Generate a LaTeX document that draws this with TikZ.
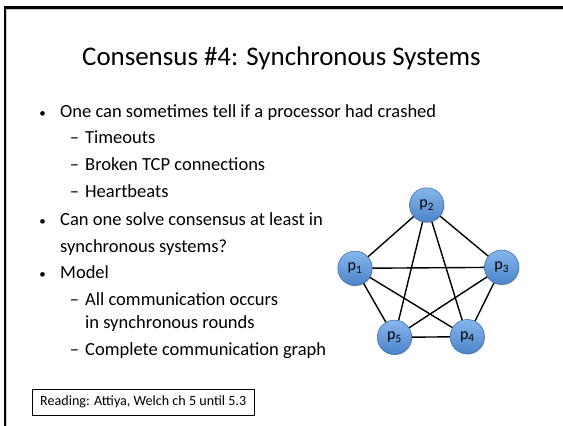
\documentclass[tikz,border=0pt]{standalone}
\usepackage{fontspec}
\setmainfont{Carlito}
\usetikzlibrary{shadows}
\definecolor{proctop}{HTML}{86B6EC}
\definecolor{procbot}{HTML}{4C84C8}
\definecolor{procrim}{HTML}{3E70AE}
\tikzset{
  slidetitle/.style={font=\fontsize{26.9}{32}\selectfont, inner sep=0pt, anchor=base},
  bodytext/.style={font=\fontsize{18.5}{22}\selectfont, inner sep=0pt, anchor=base west},
  bulletmark/.style={font=\fontsize{13}{16}\selectfont, inner sep=0pt, anchor=base},
  dashmark/.style={font=\fontsize{18.5}{22}\selectfont, inner sep=0pt, anchor=base},
  proc/.style={circle, minimum size=34.4pt, inner sep=0pt, draw=procrim, line width=0.6pt,
    top color=proctop, bottom color=procbot,
    drop shadow={opacity=0.3, shadow xshift=0.6pt, shadow yshift=-0.9pt},
    font=\fontsize{16}{18}\selectfont},
  edge/.style={draw=black, line width=1.4pt},
  notebox/.style={draw=black, line width=0.8pt, minimum width=221.7pt, minimum height=26pt,
    inner sep=0pt, font=\fontsize{14.1}{16}\selectfont}
}
\begin{document}
\begin{tikzpicture}[x=1pt, y=-1pt]
\useasboundingbox (0,0) rectangle (563,426);
\fill[white] (0,0) rectangle (563,426);
% slide frame: top and left edges only
\draw[gray!40, line width=0.8pt] (6.8,426) -- (6.8,9.2) -- (563,9.2);
\draw[black, line width=2.3pt] (5,426) -- (5,7.6) -- (563,7.6);

\node[slidetitle] (title) at (281.5,65) {Consensus \#4: Synchronous Systems};

% bullet list
\node[bulletmark] (m1) at (42.7,117) {•};
\node[bodytext] (b1) at (60,117) {One can sometimes tell if a processor had crashed};
\node[dashmark] (d1) at (74.5,143.6) {–};
\node[bodytext] (s1) at (85,143.6) {Timeouts};
\node[dashmark] (d2) at (74.5,170.3) {–};
\node[bodytext] (s2) at (85,170.3) {Broken TCP connections};
\node[dashmark] (d3) at (74.5,197) {–};
\node[bodytext] (s3) at (85,197) {Heartbeats};
\node[bulletmark] (m2) at (42.7,225.3) {•};
\node[bodytext] (b2) at (60,225.3) {Can one solve consensus at least in};
\node[bodytext] (b2b) at (60,252) {synchronous systems?};
\node[bulletmark] (m3) at (42.7,278.6) {•};
\node[bodytext] (b3) at (60,278.6) {Model};
\node[dashmark] (d4) at (74.5,305.3) {–};
\node[bodytext] (s4) at (85,305.3) {All communication occurs};
\node[bodytext] (s4b) at (85,328.6) {in synchronous rounds};
\node[dashmark] (d5) at (74.5,355.3) {–};
\node[bodytext] (s5) at (85,355.3) {Complete communication graph};

% processors
\node[proc] (p1) at (355,268.3) {p\textsubscript{1}};
\node[proc] (p2) at (426.7,205) {p\textsubscript{2}};
\node[proc] (p3) at (501.7,267.3) {p\textsubscript{3}};
\node[proc] (p4) at (467.3,336.7) {p\textsubscript{4}};
\node[proc] (p5) at (394.5,337.3) {p\textsubscript{5}};

% complete communication graph
\draw[edge] (p1) -- (p2);
\draw[edge] (p1) -- (p3);
\draw[edge] (p1) -- (p4);
\draw[edge] (p1) -- (p5);
\draw[edge] (p2) -- (p3);
\draw[edge] (p2) -- (p4);
\draw[edge] (p2) -- (p5);
\draw[edge] (p3) -- (p4);
\draw[edge] (p3) -- (p5);
\draw[edge] (p4) -- (p5);

\node[notebox] (reading) at (143.2,402) {Reading: Attiya, Welch ch 5 until 5.3};
\end{tikzpicture}
\end{document}
